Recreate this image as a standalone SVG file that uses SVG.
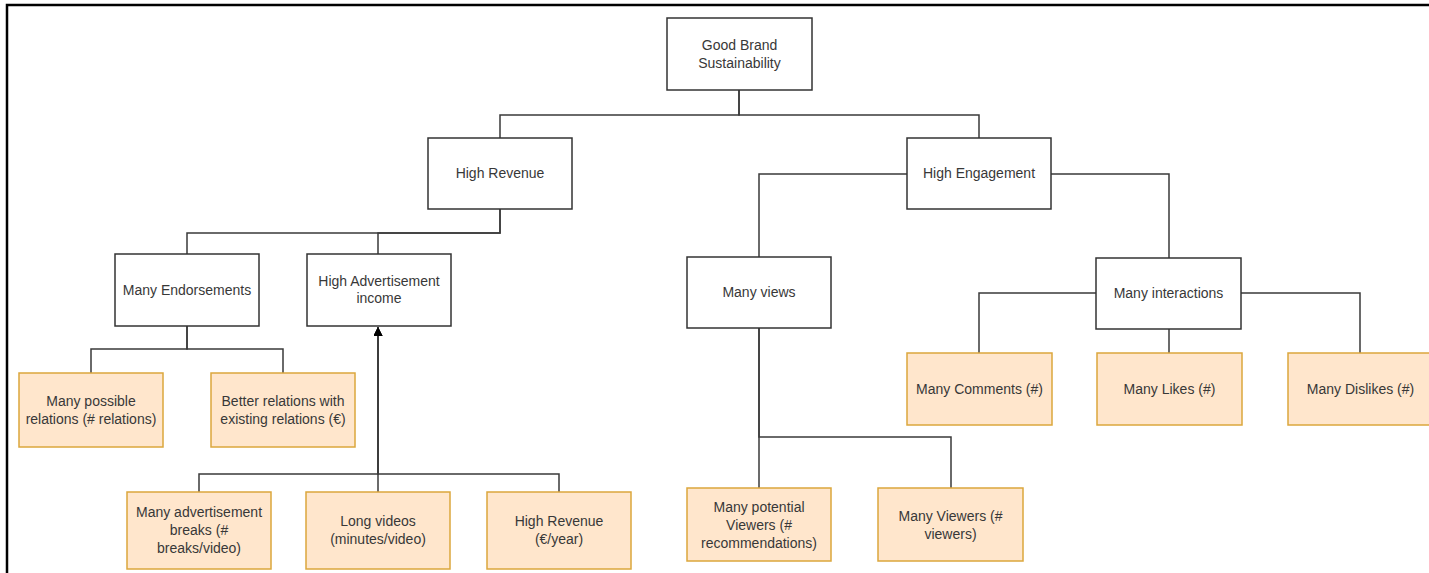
<svg xmlns="http://www.w3.org/2000/svg" width="1429" height="573" viewBox="0 0 1429 573">
  <style>
    .box { fill: #ffffff; stroke: #333333; stroke-width: 1.5; }
    .leaf { fill: #ffe6cc; stroke: #dba73c; stroke-width: 1.5; }
    .lbl { font-family: "Liberation Sans", Arial, sans-serif; font-size: 14px; fill: #383838; text-anchor: middle; }
    .edge { fill: none; stroke: #3a3a3a; stroke-width: 1.5; }
    .frame { fill: none; stroke: #000000; stroke-width: 2.5; }
  </style>
  <defs>
    <marker id="arrow" viewBox="0 0 10 10" refX="10" refY="5" markerWidth="9" markerHeight="9" markerUnits="userSpaceOnUse" orient="auto">
      <path d="M0,0 L10,5 L0,10 Z" fill="#000000"/>
    </marker>
  </defs>

  <rect width="1429" height="573" fill="#ffffff"/>
  <path class="frame" d="M7,573 V5 H1429"/>

  <!-- connectors -->
  <g id="connectors">
    <path class="edge" d="M739,90 V115 H500 V138"/>
    <path class="edge" d="M739,90 V115 H979 V138"/>
    <path class="edge" d="M500,209 V233 H187 V254"/>
    <path class="edge" d="M500,209 V233 H378 V254"/>
    <path class="edge" d="M187,326 V349 H91 V373"/>
    <path class="edge" d="M187,326 V349 H283 V373"/>
    <path class="edge" d="M199,492 V474 H378 V327" marker-end="url(#arrow)"/>
    <path class="edge" d="M559,492 V474 H378 V327" marker-end="url(#arrow)"/>
    <path class="edge" d="M378,492 V327" marker-end="url(#arrow)"/>
    <path class="edge" d="M907,174 H759 V257"/>
    <path class="edge" d="M1051,174 H1169 V258"/>
    <path class="edge" d="M759,328 V488"/>
    <path class="edge" d="M759,328 V437 H951 V488"/>
    <path class="edge" d="M1096,293 H979 V353"/>
    <path class="edge" d="M1169,329 V353"/>
    <path class="edge" d="M1241,293 H1360 V353"/>
  </g>

  <!-- goal nodes -->
  <g id="good-brand">
    <rect class="box" x="667" y="18" width="145" height="72"/>
    <text class="lbl" x="739.5" y="45" dy="0.35em">Good Brand</text>
    <text class="lbl" x="739.5" y="63" dy="0.35em">Sustainability</text>
  </g>
  <g id="high-revenue">
    <rect class="box" x="428" y="138" width="144" height="71"/>
    <text class="lbl" x="500" y="173.5" dy="0.35em">High Revenue</text>
  </g>
  <g id="high-engagement">
    <rect class="box" x="907" y="138" width="144" height="71"/>
    <text class="lbl" x="979" y="173.5" dy="0.35em">High Engagement</text>
  </g>
  <g id="many-endorsements">
    <rect class="box" x="115" y="254" width="144" height="72"/>
    <text class="lbl" x="187" y="290" dy="0.35em">Many Endorsements</text>
  </g>
  <g id="ad-income">
    <rect class="box" x="307" y="254" width="144" height="72"/>
    <text class="lbl" x="379" y="281" dy="0.35em">High Advertisement</text>
    <text class="lbl" x="379" y="298.5" dy="0.35em">income</text>
  </g>
  <g id="many-views">
    <rect class="box" x="687" y="257" width="144" height="71"/>
    <text class="lbl" x="759" y="292.5" dy="0.35em">Many views</text>
  </g>
  <g id="many-interactions">
    <rect class="box" x="1096" y="258" width="145" height="71"/>
    <text class="lbl" x="1168.5" y="293.5" dy="0.35em">Many interactions</text>
  </g>

  <!-- measurable leaves -->
  <g id="possible-relations">
    <rect class="leaf" x="19" y="373" width="144" height="74"/>
    <text class="lbl" x="91" y="401.5" dy="0.35em">Many possible</text>
    <text class="lbl" x="91" y="419" dy="0.35em">relations (# relations)</text>
  </g>
  <g id="better-relations">
    <rect class="leaf" x="211" y="373" width="144" height="74"/>
    <text class="lbl" x="283" y="401.5" dy="0.35em">Better relations with</text>
    <text class="lbl" x="283" y="419" dy="0.35em">existing relations (€)</text>
  </g>
  <g id="ad-breaks">
    <rect class="leaf" x="127" y="492" width="144" height="77"/>
    <text class="lbl" x="199" y="512" dy="0.35em">Many advertisement</text>
    <text class="lbl" x="199" y="530" dy="0.35em">breaks (#</text>
    <text class="lbl" x="199" y="548.5" dy="0.35em">breaks/video)</text>
  </g>
  <g id="long-videos">
    <rect class="leaf" x="306" y="492" width="144" height="77"/>
    <text class="lbl" x="378" y="521" dy="0.35em">Long videos</text>
    <text class="lbl" x="378" y="539.5" dy="0.35em">(minutes/video)</text>
  </g>
  <g id="revenue-year">
    <rect class="leaf" x="487" y="492" width="144" height="77"/>
    <text class="lbl" x="559" y="521" dy="0.35em">High Revenue</text>
    <text class="lbl" x="559" y="539.5" dy="0.35em">(€/year)</text>
  </g>
  <g id="potential-viewers">
    <rect class="leaf" x="687" y="488" width="144" height="73"/>
    <text class="lbl" x="759" y="507.5" dy="0.35em">Many potential</text>
    <text class="lbl" x="759" y="525" dy="0.35em">Viewers (#</text>
    <text class="lbl" x="759" y="543" dy="0.35em">recommendations)</text>
  </g>
  <g id="viewers">
    <rect class="leaf" x="878" y="488" width="145" height="73"/>
    <text class="lbl" x="950.5" y="516" dy="0.35em">Many Viewers (#</text>
    <text class="lbl" x="950.5" y="534" dy="0.35em">viewers)</text>
  </g>
  <g id="comments">
    <rect class="leaf" x="907" y="353" width="145" height="72"/>
    <text class="lbl" x="979.5" y="389" dy="0.35em">Many Comments (#)</text>
  </g>
  <g id="likes">
    <rect class="leaf" x="1097" y="353" width="145" height="72"/>
    <text class="lbl" x="1169.5" y="389" dy="0.35em">Many Likes (#)</text>
  </g>
  <g id="dislikes">
    <rect class="leaf" x="1288" y="353" width="145" height="72"/>
    <text class="lbl" x="1360.5" y="389" dy="0.35em">Many Dislikes (#)</text>
  </g>
</svg>
